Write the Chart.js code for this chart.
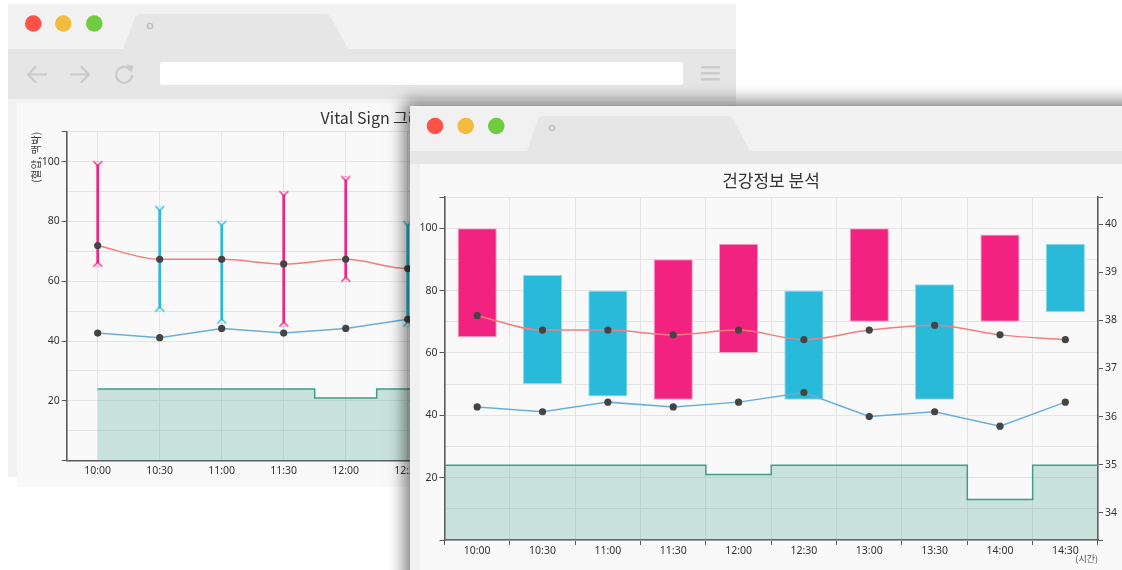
<!DOCTYPE html>
<html><head><meta charset="utf-8">
<script src="https://cdn.jsdelivr.net/npm/chart.js@4/dist/chart.umd.min.js"></script>
<style>
html,body{margin:0;padding:0;background:#fff;}
body{width:1122px;height:570px;overflow:hidden;position:relative;font-family:'Noto Sans CJK KR','Noto Sans',sans-serif;}
.abs{position:absolute;}
svg.layer{position:absolute;left:0;top:0;width:1122px;height:570px;overflow:visible;}
</style></head>
<body>
<!-- back window -->
<div class="abs" style="left:8px;top:4px;width:728px;height:473px;background:#f2f2f2;"></div>
<div class="abs" style="left:8px;top:49px;width:728px;height:50px;background:#e6e6e6;"></div>
<svg class="layer">
  <path d="M123,49 L135,17.5 Q136.5,14 140.5,14 L325,14 Q329,14 331,17.5 L348,49 Z" fill="#e6e6e6"/>
  <circle cx="150" cy="26" r="2.6" fill="none" stroke="#bdbdbd" stroke-width="1.4"/>
  <circle cx="33.3" cy="23.5" r="8.3" fill="#fe5246"/>
  <circle cx="63.3" cy="23.5" r="8.3" fill="#f4bc3e"/>
  <circle cx="94.3" cy="23.5" r="8.3" fill="#6fcc3f"/>
  <g stroke="#cacaca" stroke-width="2.2" fill="none" stroke-linecap="round">
    <path d="M28,74.5 H46 M28,74.5 L35.5,67 M28,74.5 L35.5,82"/>
    <path d="M71,74.5 H89 M89,74.5 L81.5,67 M89,74.5 L81.5,82"/>
    <path d="M130.5,70 A8,8 0 1 0 132,76"/>
  </g>
  <path d="M126.5,64.5 L133.5,66 L131.5,72.5 Z" fill="#cacaca"/>
  <rect x="160" y="62" width="523" height="23" rx="3" fill="#fff"/>
  <g fill="#cbcbcb"><rect x="701" y="66" width="19" height="2.6" rx="1"/><rect x="701" y="72" width="19" height="2.6" rx="1"/><rect x="701" y="78" width="19" height="2.6" rx="1"/></g>
</svg>
<div class="abs" style="left:17px;top:103px;width:712px;height:384px;background:#f9f9f9;"></div>
<canvas id="back" class="abs" style="left:17px;top:103px;" width="724" height="384"></canvas>

<!-- front window -->
<div class="abs" style="left:410px;top:106px;width:740px;height:500px;background:#f1f1f1;box-shadow:-3px -2px 15px 3px rgba(0,0,0,0.5);">
  <svg class="layer" style="left:-410px;top:-106px;">
    <rect x="410" y="151" width="740" height="13" fill="#e6e6e6"/>
    <path d="M527,151 L538,119.5 Q539.5,116 543.5,116 L727,116 Q731,116 733,119.5 L750,151 Z" fill="#e6e6e6"/>
    <circle cx="552" cy="128" r="2.6" fill="none" stroke="#bdbdbd" stroke-width="1.4"/>
    <circle cx="435" cy="126" r="8.3" fill="#fe5246"/>
    <circle cx="465.7" cy="126" r="8.3" fill="#f4bc3e"/>
    <circle cx="496.3" cy="126" r="8.3" fill="#6fcc3f"/>
  </svg>
  <div class="abs" style="left:10px;top:58px;width:730px;height:442px;background:#f9f9f9;"></div>
  <canvas id="front" class="abs" style="left:10px;top:58px;" width="702" height="406"></canvas>
</div>

<script>
// ---- data ----
const times   = ['10:00','10:30','11:00','11:30','12:00','12:30','13:00','13:30','14:00','14:30'];
const bpHigh  = [100, 85, 80, 90, 95, 80, 100, 82, 98, 95];
const bpLow   = [ 65, 50, 46, 45, 60, 45,  70, 45, 70, 73];
const bpAlert = [  1,  0,  0,  1,  1,  0,   1,  0,  1,  0];   // 1 = pink, 0 = cyan
const tempHigh = [38.1, 37.8, 37.8, 37.7, 37.8, 37.6, 37.8, 37.9, 37.7, 37.6];
const tempLow  = [36.2, 36.1, 36.3, 36.2, 36.3, 36.5, 36.0, 36.1, 35.8, 36.3];
const respRate = [24, 24, 24, 24, 21, 24, 24, 24, 13, 24];
const leftTicks  = [20, 40, 60, 80, 100];
const rightTicks = [34, 35, 36, 37, 38, 39, 40];
const leftRange  = [0, 110];
const rightRange = [33.43, 40.57];

// ---- styles ----
const PINK = '#f22281', CYAN = '#29b9d9';
const PINK_B = '#f7a6c8', CYAN_B = '#92d9ea';
const RED = '#f47d7d', BLUE = '#6aaed9';
const GREEN = '#3f9f82', GREEN_F = 'rgba(60,160,130,0.25)';
const AXIS = '#5a5a5a', GRID = '#e4e4e4', TXT = '#333', PANEL = '#f9f9f9';
const tickFont = {family: "'Noto Sans',sans-serif", size: 10.5};

function makeCap(color, top) {
  const c = document.createElement('canvas'); c.width = 14; c.height = 14;
  const g = c.getContext('2d');
  g.beginPath();
  if (top) { g.moveTo(3, 7); g.lineTo(7, 11); g.lineTo(11, 7); }
  else     { g.moveTo(3, 7); g.lineTo(7, 3);  g.lineTo(11, 7); }
  g.closePath(); g.fillStyle = PANEL; g.fill();
  g.beginPath();
  if (top) { g.moveTo(3, 7); g.lineTo(7, 11); g.lineTo(11, 7); }
  else     { g.moveTo(3, 7); g.lineTo(7, 3);  g.lineTo(11, 7); }
  g.strokeStyle = color; g.lineWidth = 1.4; g.lineCap = 'round'; g.stroke();
  return c;
}
const caps = {top: [makeCap(CYAN, true), makeCap(PINK, true)], bot: [makeCap(CYAN, false), makeCap(PINK, false)]};

function leftAxis(width, extra) {
  return Object.assign({
    type: 'linear', position: 'left', min: leftRange[0], max: leftRange[1],
    ticks: {stepSize: 10, color: TXT, font: tickFont, padding: 2,
      callback: v => leftTicks.includes(v) ? v : ''},
    grid: {color: GRID, tickLength: 5,
      tickColor: c => (c.tick && (c.tick.value % 20 === 0 || c.tick.value === leftRange[1])) ? AXIS : 'rgba(0,0,0,0)'},
    border: {color: AXIS, width: 1.6},
    afterFit: s => { s.width = width; }
  }, extra || {});
}
function rightAxis(width) {
  return {
    type: 'linear', position: 'right', min: rightRange[0], max: rightRange[1],
    ticks: {color: TXT, font: tickFont, padding: 2, includeBounds: false,
      callback: v => rightTicks.includes(v) ? v : ''},
    afterBuildTicks: s => { s.ticks = [s.min, ...rightTicks, s.max].map(v => ({value: v})); },
    grid: {drawOnChartArea: false, tickLength: 5, tickColor: AXIS},
    border: {color: AXIS, width: 1.6},
    afterFit: s => { s.width = width; }
  };
}
const lineSets = () => ([
  {type: 'line', data: tempHigh, yAxisID: 'y2', borderColor: RED, borderWidth: 1.5,
   cubicInterpolationMode: 'monotone', pointRadius: 3.6, pointBackgroundColor: '#444', pointBorderWidth: 0, order: 0},
  {type: 'line', data: tempLow, yAxisID: 'y2', borderColor: BLUE, borderWidth: 1.5,
   pointRadius: 3.6, pointBackgroundColor: '#444', pointBorderWidth: 0, order: 0}
]);

// ---- back chart: Vital Sign ----
new Chart(document.getElementById('back'), {
  type: 'bar',
  data: {labels: times, datasets: [
    ...lineSets(),
    {type: 'line', data: bpHigh, yAxisID: 'y', showLine: false, pointRadius: 5,
     pointStyle: c => caps.top[bpAlert[c.dataIndex]], order: 1},
    {type: 'line', data: bpLow, yAxisID: 'y', showLine: false, pointRadius: 5,
     pointStyle: c => caps.bot[bpAlert[c.dataIndex]], order: 1},
    {type: 'bar', data: bpLow.map((l, i) => [l, bpHigh[i]]), yAxisID: 'y', barThickness: 2, grouped: false,
     backgroundColor: bpAlert.map(a => a ? PINK : CYAN), borderWidth: 0, order: 2},
    {type: 'line', data: respRate, yAxisID: 'y', stepped: 'middle', borderColor: GREEN, borderWidth: 1.5,
     backgroundColor: GREEN_F, fill: 'origin', pointRadius: 0, order: 3}
  ]},
  options: {
    responsive: false, animation: false, devicePixelRatio: 1,
    layout: {padding: 0},
    plugins: {legend: {display: false}, tooltip: {enabled: false},
      title: {display: true, text: 'Vital Sign 그래프', color: TXT,
        font: {family: "'Noto Sans CJK KR','Noto Sans',sans-serif", size: 16, weight: 'normal'},
        padding: {top: 5.4, bottom: 4.1}}},
    scales: {
      x: {type: 'category', offset: true,
        grid: {offset: false, color: GRID, tickLength: 4, tickColor: 'rgba(0,0,0,0)'},
        ticks: {color: TXT, font: tickFont, padding: 0, maxRotation: 0},
        border: {color: AXIS, width: 1.6},
        afterFit: s => { s.height = 26.3; }},
      y: leftAxis(49.7, {title: {display: true, text: '(혈압, 맥박)', align: 'end', color: TXT,
        font: {family: "'Noto Sans CJK KR',sans-serif", size: 10.5}, padding: {top: 13.2, bottom: 0}}}),
      y2: rightAxis(54.3)
    }
  }
});

// ---- front chart: 건강정보 분석 ----
new Chart(document.getElementById('front'), {
  type: 'bar',
  data: {labels: times, datasets: [
    ...lineSets(),
    {type: 'bar', data: bpLow.map((l, i) => [l, bpHigh[i]]), yAxisID: 'y', grouped: false,
     backgroundColor: bpAlert.map(a => a ? PINK : CYAN), borderColor: bpAlert.map(a => a ? PINK_B : CYAN_B),
     borderWidth: 1, borderSkipped: false, barPercentage: 0.6, categoryPercentage: 1, order: 1},
    {type: 'line', xAxisID: 'xs', yAxisID: 'y', stepped: 'before',
     data: [...respRate.map((v, i) => ({x: i - 0.5, y: v})), {x: respRate.length - 0.5, y: respRate[respRate.length - 1]}],
     borderColor: GREEN, borderWidth: 1.5, backgroundColor: GREEN_F, fill: 'origin', pointRadius: 0, order: 2}
  ]},
  options: {
    responsive: false, animation: false, devicePixelRatio: 1,
    layout: {padding: 0},
    plugins: {legend: {display: false}, tooltip: {enabled: false},
      title: {display: true, text: '건강정보 분석', color: TXT,
        font: {family: "'Noto Sans CJK KR','Noto Sans',sans-serif", size: 17, weight: 'normal'},
        padding: {top: 6.8, bottom: 5.8}}},
    scales: {
      x: {type: 'category', offset: true,
        grid: {offset: true, color: GRID, tickLength: 5, tickColor: AXIS},
        ticks: {color: TXT, font: tickFont, padding: 0, maxRotation: 0},
        border: {color: AXIS, width: 1.6},
        title: {display: true, text: '(시간)', align: 'end', color: '#555',
          font: {family: "'Noto Sans CJK KR',sans-serif", size: 9}, padding: {top: 0, bottom: 5.6}},
        afterFit: s => { s.height = 30; }},
      xs: {type: 'linear', display: false, offset: false, min: -0.5, max: times.length - 0.5},
      y: leftAxis(24.5),
      y2: rightAxis(24)
    }
  }
});
</script>
</body></html>
